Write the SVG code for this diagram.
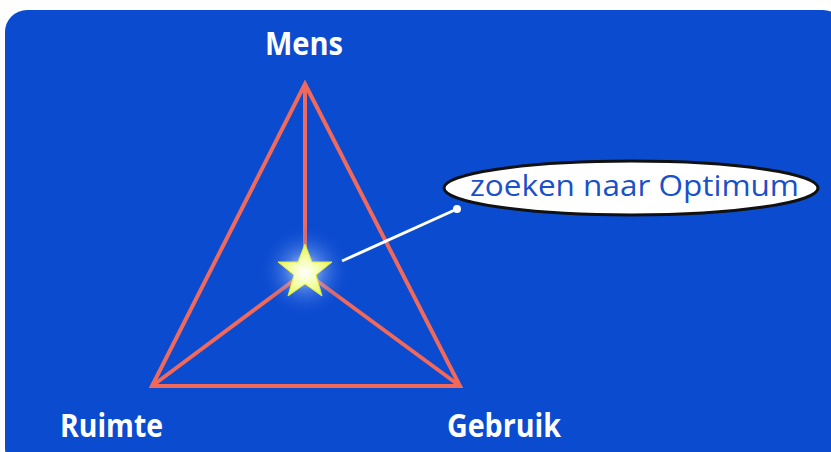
<svg xmlns="http://www.w3.org/2000/svg" width="831" height="452" viewBox="0 0 831 452">
<defs>
<style>
.lbl{font-family:"Open Sans","Liberation Sans",sans-serif;font-weight:bold;font-size:32px;fill:#ffffff;}
.edge{stroke:#f0695a;stroke-width:4;fill:none;stroke-linejoin:miter;}
.callout{font-family:"Open Sans","Liberation Sans",sans-serif;font-size:29px;fill:#1a50c8;}
</style>
<radialGradient id="glow" cx="0.5" cy="0.5" r="0.5">
<stop offset="0" stop-color="#ffffff" stop-opacity="0.9"/>
<stop offset="0.4" stop-color="#9fc0ff" stop-opacity="0.4"/>
<stop offset="1" stop-color="#0b4bd0" stop-opacity="0"/>
</radialGradient>
<radialGradient id="starfill" cx="0.5" cy="0.55" r="0.5">
<stop offset="0" stop-color="#ffffff"/>
<stop offset="0.5" stop-color="#f4ffb0"/>
<stop offset="1" stop-color="#e8f55a"/>
</radialGradient>
</defs>
<rect x="0" y="0" width="831" height="452" fill="#ffffff"/>
<rect x="5" y="10" width="840" height="460" rx="22" fill="#0b4bd0"/>
<g id="connectors">
<polygon class="edge" points="305,84 152,386 460,386"/>
<line class="edge" x1="305" y1="84" x2="305" y2="272"/>
<line class="edge" x1="305" y1="272" x2="152" y2="386"/>
<line class="edge" x1="305" y1="272" x2="460" y2="386"/>
<line x1="342" y1="261" x2="457" y2="209" stroke="#ffffff" stroke-width="3"/>
<circle cx="457" cy="209" r="4" fill="#ffffff"/>
</g>
<g id="star">
<circle cx="305" cy="271" r="46" fill="url(#glow)"/>
<polygon points="305,244 312,262 332,262 316,275 322,296 305,284 288,296 294,275 278,262 298,262" fill="url(#starfill)" stroke="#e0ec40" stroke-width="1"/>
</g>
<g id="node-mens"><text class="lbl" x="265" y="55" textLength="78" lengthAdjust="spacingAndGlyphs">Mens</text></g>
<g id="node-ruimte"><text class="lbl" x="60" y="437" textLength="103" lengthAdjust="spacingAndGlyphs">Ruimte</text></g>
<g id="node-gebruik"><text class="lbl" x="447" y="437" textLength="114" lengthAdjust="spacingAndGlyphs">Gebruik</text></g>
<g id="node-optimum">
<ellipse cx="631" cy="188" rx="187" ry="27" fill="#ffffff" stroke="#111111" stroke-width="3"/>
<text class="callout" x="470" y="196" textLength="329" lengthAdjust="spacingAndGlyphs">zoeken naar Optimum</text>
</g>
</svg>
